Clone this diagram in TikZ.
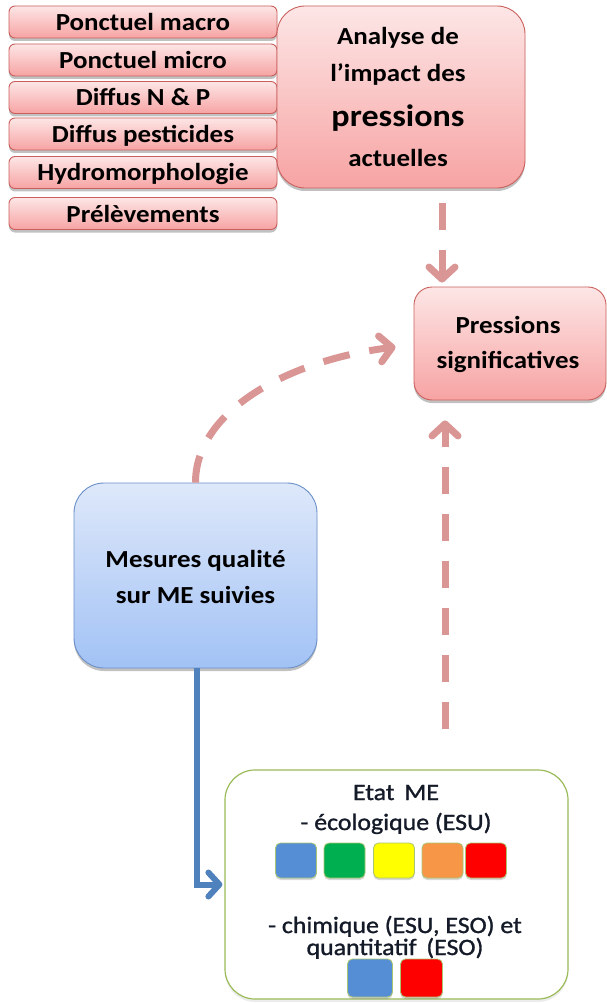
\documentclass[tikz,border=0pt]{standalone}
\usepackage{fontspec}
\setmainfont{Carlito}[FakeStretch=1.1]
\newfontfamily\etatfamily{Carlito}[FakeStretch=1.1,FakeBold=1.2]
\usetikzlibrary{arrows.meta,shadows,calc}
\definecolor{pinkline}{HTML}{C9605D}
\definecolor{pinktop}{HTML}{FDE6E6}
\definecolor{pinkbot}{HTML}{F7A3A3}
\definecolor{arrowpink}{HTML}{D99694}
\definecolor{bluetop}{HTML}{DEE8FA}
\definecolor{bluebot}{HTML}{A2C2F5}
\definecolor{blueedge}{HTML}{6A8FC7}
\definecolor{blueline}{HTML}{4F81BD}
\definecolor{greenline}{HTML}{9BBB59}
\definecolor{sqblue}{HTML}{558ED5}
\definecolor{sqgreen}{HTML}{00B050}
\definecolor{sqyellow}{HTML}{FFFF00}
\definecolor{sqorange}{HTML}{F79646}
\definecolor{sqred}{HTML}{FF0000}
\definecolor{etattext}{HTML}{141A28}
\begin{document}
\begin{tikzpicture}[x=1pt,y=-1pt,
  shadowed/.style={drop shadow={shadow xshift=0pt,shadow yshift=-3pt,opacity=0.35,fill=black!70}},
  pinkbox/.style={draw=pinkline,line width=0.9pt,top color=pinktop,bottom color=pinkbot,shadowed,inner sep=0pt},
  smallbox/.style={pinkbox,rounded corners=6pt,minimum width=268pt,minimum height=32pt,
     text height=17pt,text depth=0pt,font=\bfseries\fontsize{24.5}{29}\selectfont},
  lbl/.style={anchor=base,inner sep=0pt,font=\bfseries\fontsize{24.5}{29}\selectfont},
  etxt/.style={anchor=base,inner sep=0pt,text=etattext,font=\etatfamily\fontsize{23.5}{28}\selectfont},
  sq/.style={draw=greenline!85,line width=0.8pt,rounded corners=5pt,minimum width=41pt,minimum height=35pt,inner sep=0pt,
     drop shadow={shadow xshift=0pt,shadow yshift=-2pt,opacity=0.25,fill=black!60}},
  pinkarrow/.style={draw=arrowpink,line width=7pt,dash pattern=on 27pt off 20pt,
     -{Straight Barb[length=12pt,width=26pt,round]}},
  bluearrow/.style={draw=blueline,line width=6pt,
     -{Straight Barb[length=11pt,width=24pt,round]}}
]
\useasboundingbox (0,0) rectangle (607,1003);

% pressure list
\node[smallbox] (p1) at (143,22)    {Ponctuel macro};
\node[smallbox] (p2) at (143,60)    {Ponctuel micro};
\node[smallbox] (p3) at (143,97.5)  {Diffus N \& P};
\node[smallbox] (p4) at (143,134)   {Diffus pesticides};
\node[smallbox] (p5) at (143,172.5) {Hydromorphologie};
\node[smallbox] (p6) at (143,213.5) {Prélèvements};

% analyse box
\node[pinkbox,rounded corners=28pt,minimum width=248pt,minimum height=182pt] (an) at (401,97) {};
\node[lbl] (an1) at (398,45)  {Analyse de};
\node[lbl] (an2) at (398,82)  {l’impact des};
\node[lbl,font=\bfseries\fontsize{31}{36}\selectfont] (an3) at (398,127) {pressions};
\node[lbl] (an4) at (398,167) {actuelles};

% pressions significatives
\node[pinkbox,rounded corners=18pt,minimum width=192pt,minimum height=113pt] (sig) at (510,343.5) {};
\node[lbl] (sig1) at (508,333) {Pressions};
\node[lbl] (sig2) at (508,368) {significatives};

% mesures
\node[draw=blueedge,line width=0.9pt,top color=bluetop,bottom color=bluebot,shadowed,
      rounded corners=30pt,minimum width=243pt,minimum height=185pt] (mes) at (195.5,575.5) {};
\node[lbl] (mes1) at (195.5,567) {Mesures qualité};
\node[lbl] (mes2) at (195.5,603) {sur ME suivies};

% etat ME
\node[draw=greenline,line width=1.2pt,fill=white,rounded corners=30pt,
      drop shadow={shadow xshift=0pt,shadow yshift=-3pt,opacity=0.15,fill=black!50},
      minimum width=343pt,minimum height=229pt] (etat) at (396.5,884.5) {};
\node[etxt] (e1) at (396,800) {Etat\, ME};
\node[etxt] (e2) at (396,830) {- écologique (ESU)};
\node[etxt] (e3) at (395,933) {- chimique (ESU, ESO) et};
\node[etxt] (e4) at (395,955) {quantitatif\, (ESO)};

\node[sq,fill=sqblue]   (s1) at (296,860.5)   {};
\node[sq,fill=sqgreen]  (s2) at (344.5,860.5) {};
\node[sq,fill=sqyellow] (s3) at (394,860.5)   {};
\node[sq,fill=sqorange] (s4) at (442.5,860.5) {};
\node[sq,fill=sqred]    (s5) at (486,860.5)   {};
\node[sq,fill=sqblue,minimum width=45pt,minimum height=38pt] (t1) at (370,978) {};
\node[sq,fill=sqred,minimum width=42pt,minimum height=38pt]  (t2) at (421.5,978) {};

% connectors
\draw[pinkarrow,shorten <=15pt,shorten >=4pt] ([xshift=41pt]an.south) -- ([xshift=-68pt]sig.north);
\draw[pinkarrow,shorten <=40pt,shorten >=20pt] ([xshift=48.5pt]etat.north) -- ([xshift=-65pt]sig.south);
\coordinate (curveend) at ($(sig.west)+(-18,3.5)$);
\draw[pinkarrow] (mes.north) .. controls (195.5,410) and (290,360) .. (curveend);
\draw[bluearrow,shorten >=2pt] ([xshift=1.5pt]mes.south) |- (etat.west);
\end{tikzpicture}
\end{document}
